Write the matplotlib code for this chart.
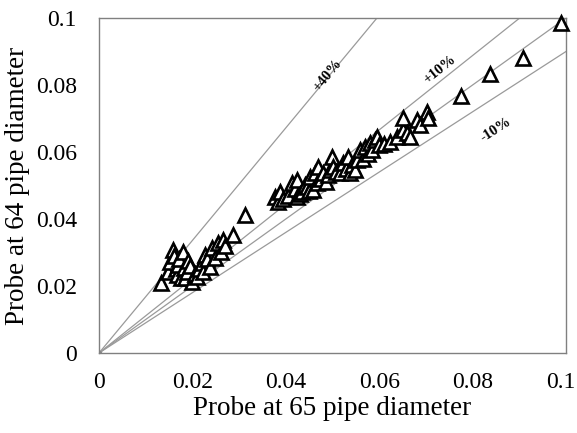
import math

import matplotlib
matplotlib.use("Agg")
import matplotlib.pyplot as plt
from matplotlib.transforms import ScaledTranslation

# probe readings (65 vs 64 pipe diameters)
probe_65 = [
    0.0132, 0.0148, 0.0152, 0.0158, 0.0160, 0.0165, 0.0167, 0.0169, 0.0172, 0.0175,
    0.0180, 0.0182, 0.0184, 0.0188, 0.0190, 0.0195, 0.0200, 0.0205, 0.0210, 0.0215,
    0.0220, 0.0223, 0.0227, 0.0232, 0.0238, 0.0242, 0.0248, 0.0255, 0.0262, 0.0266,
    0.0270, 0.0287, 0.0313,
    0.0377, 0.0383, 0.0388, 0.0395, 0.0405, 0.0413, 0.0420, 0.0424, 0.0424, 0.0430,
    0.0435, 0.0440, 0.0445, 0.0450, 0.0452, 0.0458, 0.0463, 0.0467, 0.0469, 0.0475,
    0.0480, 0.0485, 0.0490, 0.0495, 0.0499, 0.0501, 0.0508, 0.0516, 0.0522, 0.0528,
    0.0533, 0.0537, 0.0542, 0.0548, 0.0553, 0.0559, 0.0565, 0.0570, 0.0575, 0.0580,
    0.0585, 0.0591, 0.0595, 0.0600, 0.0610, 0.0623, 0.0638, 0.0651, 0.0651, 0.0660,
    0.0666, 0.0680, 0.0687, 0.0702, 0.0704,
    0.0775, 0.0837, 0.0908, 0.0990,
]
probe_64 = [
    0.0209, 0.0242, 0.0272, 0.0307, 0.0290, 0.0250, 0.0233, 0.0263, 0.0280, 0.0225,
    0.0300, 0.0255, 0.0224, 0.0242, 0.0275, 0.0260, 0.0212, 0.0235, 0.0227, 0.0250,
    0.0270, 0.0242, 0.0293, 0.0280, 0.0257, 0.0313, 0.0284, 0.0328, 0.0300, 0.0337,
    0.0320, 0.0352, 0.0412,
    0.0466, 0.0450, 0.0480, 0.0460, 0.0470, 0.0507, 0.0490, 0.0516, 0.0466, 0.0475,
    0.0480, 0.0500, 0.0496, 0.0485, 0.0525, 0.0487, 0.0537, 0.0507, 0.0555, 0.0520,
    0.0537, 0.0510, 0.0530, 0.0545, 0.0585, 0.0555, 0.0540, 0.0537, 0.0567, 0.0550,
    0.0585, 0.0537, 0.0560, 0.0546, 0.0575, 0.0606, 0.0580, 0.0615, 0.0595, 0.0627,
    0.0605, 0.0636, 0.0645, 0.0620, 0.0625, 0.0630, 0.0645, 0.0666, 0.0701, 0.0657,
    0.0645, 0.0696, 0.0680, 0.0720, 0.0701,
    0.0767, 0.0833, 0.0880, 0.0985,
]

# guide lines through the origin
guide_slopes = [1.68, 1.11, 1.0, 0.9]
guide_labels = ["+40%", "+10%", "", "-10%"]
label_x = [0.0490, 0.0730, None, 0.0850]
label_y = [0.0830, 0.0845, None, 0.0665]

plt.rcParams["font.family"] = ["Liberation Serif", "DejaVu Serif"]

ax_rect = [0.1716, 0.1848, 0.8094, 0.7737]
fig = plt.figure(figsize=(5.77, 4.33), dpi=100)
ax = fig.add_axes(ax_rect)

xmax, ymax = 0.1, 0.1
for slope in guide_slopes:
    ax.plot([0, xmax], [0, slope * xmax], color="#9a9a9a", lw=0.9, zorder=1)

# rotate labels to match the drawn line angle in pixels
px_per_x = ax_rect[2] * 577 / xmax
px_per_y = ax_rect[3] * 433 / ymax
for slope, lab, lx, ly in zip(guide_slopes, guide_labels, label_x, label_y):
    if not lab:
        continue
    ang = math.degrees(math.atan(slope * px_per_y / px_per_x))
    ax.text(lx, ly, lab, rotation=ang, ha="center", va="center",
            fontsize=10.5, fontweight="bold", rotation_mode="anchor")

ax.plot(probe_65, probe_64, linestyle="none", marker="^", markersize=10.5,
        markerfacecolor="white", markeredgecolor="black", markeredgewidth=1.9,
        zorder=3, clip_on=False)

ax.plot([0], [0], marker="o", markersize=3, color="#888888", zorder=2)

ticks = [0, 0.02, 0.04, 0.06, 0.08, 0.1]
tick_text = ["0", "0.02", "0.04", "0.06", "0.08", "0.1"]
ax.set_xlim(0, xmax)
ax.set_ylim(0, ymax)
ax.set_xticks(ticks)
ax.set_xticklabels(tick_text)
ax.set_yticks(ticks)
ax.set_yticklabels(tick_text)
ax.tick_params(axis="x", length=0, labelsize=17, pad=14)
ax.tick_params(axis="y", length=0, labelsize=17, pad=16)

# keep the last x label inside the canvas
last = ax.get_xticklabels()[-1]
last.set_transform(last.get_transform() + ScaledTranslation(-5 / 100, 0, fig.dpi_scale_trans))

for sp in ax.spines.values():
    sp.set_color("#808080")
    sp.set_linewidth(1.0)

ax.set_xlabel("Probe at 65 pipe diameter", fontsize=19.5, labelpad=2)
ax.set_ylabel("Probe at 64 pipe diameter", fontsize=19.5, labelpad=4)

fig.savefig("out.png", dpi=100)
plt.close(fig)
